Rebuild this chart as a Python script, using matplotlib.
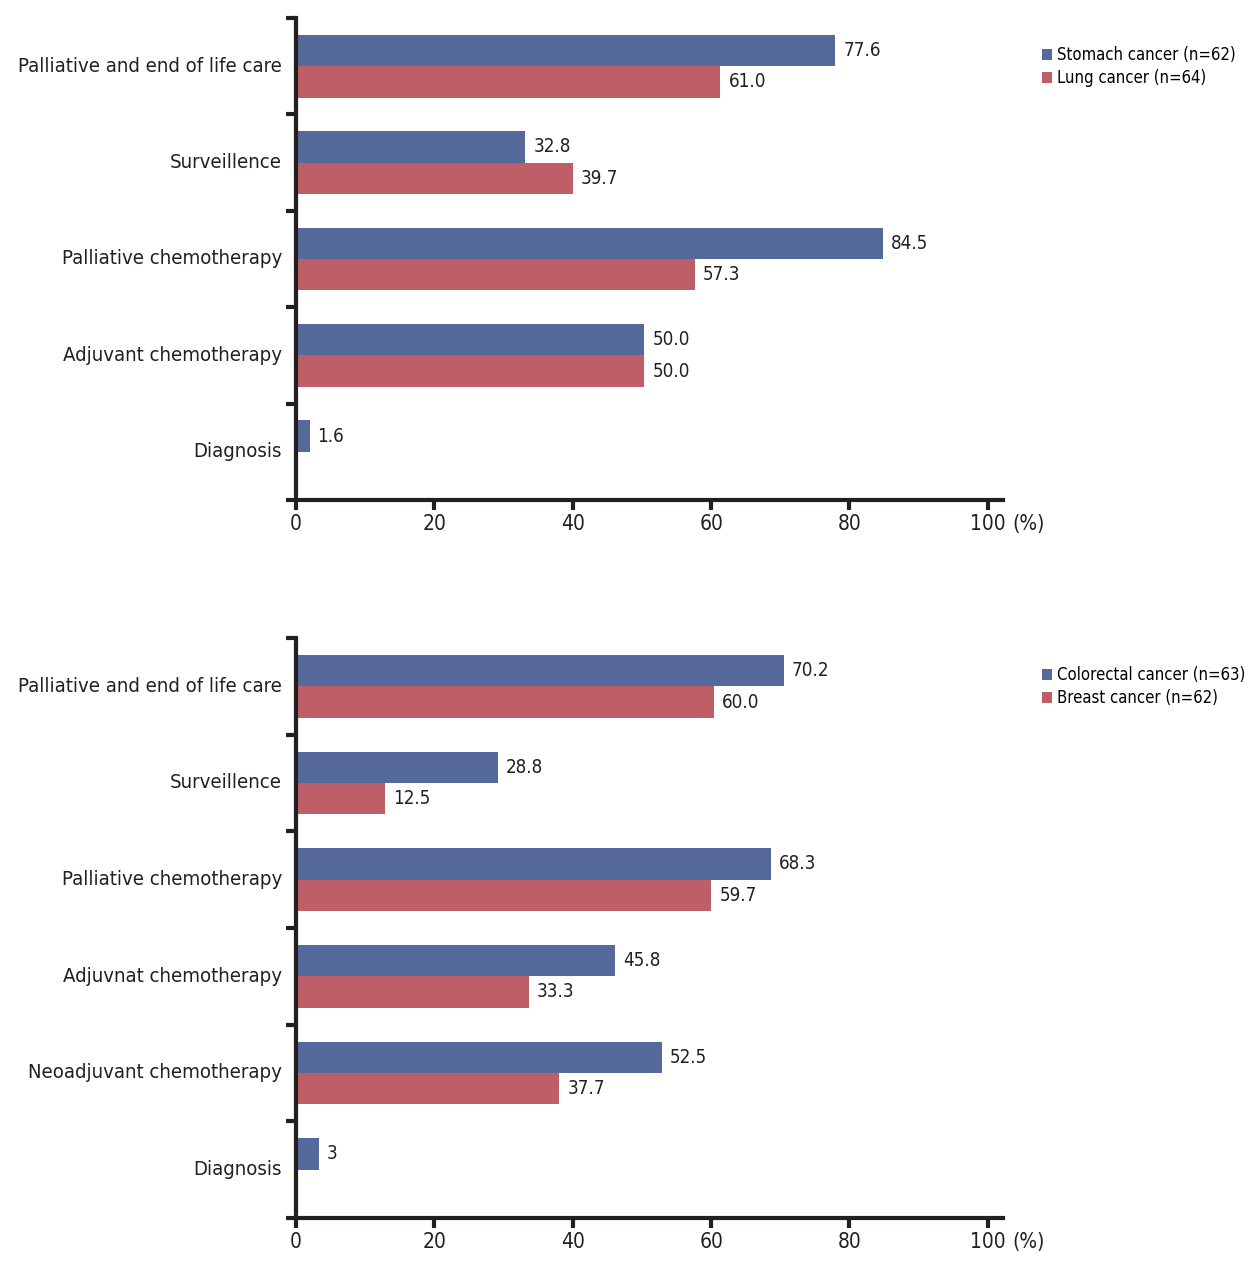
import numpy as np
import matplotlib
matplotlib.use("Agg")
import matplotlib.pyplot as plt
import matplotlib.transforms as mtransforms
from matplotlib.patches import Patch

plt.rcParams['font.family'] = ['DejaVu Sans']
plt.rcParams['font.stretch'] = 'condensed'

# top panel
top_categories = ["Palliative and end of life care", "Surveillence", "Palliative chemotherapy",
                  "Adjuvant chemotherapy", "Diagnosis"]
stomach = [77.6, 32.8, 84.5, 50.0, 1.6]
lung = [61.0, 39.7, 57.3, 50.0, None]
stomach_labels = ["77.6", "32.8", "84.5", "50.0", "1.6"]
lung_labels = ["61.0", "39.7", "57.3", "50.0", ""]
top_legend = ["Stomach cancer (n=62)", "Lung cancer (n=64)"]

# bottom panel
bottom_categories = ["Palliative and end of life care", "Surveillence", "Palliative chemotherapy",
                     "Adjuvnat chemotherapy", "Neoadjuvant chemotherapy", "Diagnosis"]
colorectal = [70.2, 28.8, 68.3, 45.8, 52.5, 3]
breast = [60.0, 12.5, 59.7, 33.3, 37.7, None]
colorectal_labels = ["70.2", "28.8", "68.3", "45.8", "52.5", "3"]
breast_labels = ["60.0", "12.5", "59.7", "33.3", "37.7", ""]
bottom_legend = ["Colorectal cancer (n=63)", "Breast cancer (n=62)"]

ticks = [0, 20, 40, 60, 80, 100]
tick_labels = ["0", "20", "40", "60", "80", "100"]

BLUE = "#56699b"
RED = "#be5f68"
INK = "#231f20"
BAR_H = 0.325


def draw_panel(ax, cats, vals_a, vals_b, labs_a, labs_b, legend_names):
    n = len(cats)
    centers = np.arange(n) + 0.5
    for i, c in enumerate(centers):
        if vals_a[i] is not None:
            ax.barh(c - BAR_H / 2, vals_a[i], height=BAR_H, left=0.35, color=BLUE, linewidth=0)
            ax.text(vals_a[i] + 1.5, c - BAR_H / 2, labs_a[i], va='center', ha='left',
                    fontsize=13.5, color=INK)
        if vals_b[i] is not None:
            ax.barh(c + BAR_H / 2, vals_b[i], height=BAR_H, left=0.35, color=RED, linewidth=0)
            ax.text(vals_b[i] + 1.5, c + BAR_H / 2, labs_b[i], va='center', ha='left',
                    fontsize=13.5, color=INK)
    ax.set_ylim(n, 0)
    ax.set_xlim(0, 102.2)
    ax.set_yticks(np.arange(n + 1))
    ax.set_yticklabels([])
    for c, name in zip(centers, cats):
        ax.text(-2.0, c, name, ha='right', va='center', fontsize=14.6, color=INK)
    ax.set_xticks(ticks)
    ax.set_xticklabels(tick_labels, fontsize=15, color=INK)
    # "(%)" next to the 100 tick label
    trans = mtransforms.offset_copy(ax.get_xaxis_transform(), fig=ax.figure, x=0, y=-10, units='points')
    ax.text(103.6, 0, "(%)", ha='left', va='top', fontsize=15, color=INK, transform=trans)
    for s in ['top', 'right']:
        ax.spines[s].set_visible(False)
    for s in ['left', 'bottom']:
        ax.spines[s].set_linewidth(3)
        ax.spines[s].set_color(INK)
    ax.tick_params(axis='both', direction='out', length=7, width=3, color=INK)
    ax.tick_params(axis='x', pad=3)
    handles = [Patch(facecolor=BLUE), Patch(facecolor=RED)]
    leg_trans = mtransforms.blended_transform_factory(ax.transAxes, ax.transData)
    ax.legend(handles, legend_names, loc='upper left',
              bbox_to_anchor=(1.055, 0.5 - BAR_H / 2 - 0.045), bbox_transform=leg_trans,
              frameon=False, fontsize=12, handlelength=0.62, handleheight=0.62,
              handletextpad=0.3, labelspacing=0.3, borderaxespad=0, borderpad=0)


fig = plt.figure(figsize=(12.56, 12.78), dpi=100)
ax1 = fig.add_axes([0.2357, 0.6088, 0.5629, 0.3771])
ax2 = fig.add_axes([0.2357, 0.0470, 0.5629, 0.4538])

draw_panel(ax1, top_categories, stomach, lung, stomach_labels, lung_labels, top_legend)
draw_panel(ax2, bottom_categories, colorectal, breast, colorectal_labels, breast_labels, bottom_legend)

fig.savefig("out.png", dpi=100)
